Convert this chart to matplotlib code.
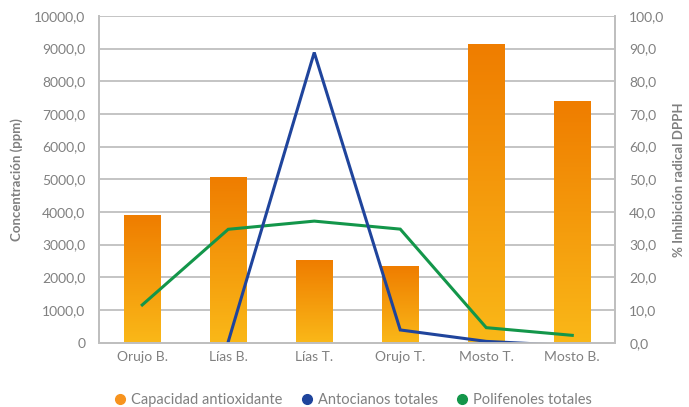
import numpy as np
import matplotlib.pyplot as plt
from matplotlib.lines import Line2D
from matplotlib.colors import LinearSegmentedColormap
from matplotlib.ticker import FuncFormatter

plt.rcParams['font.family'] = ['Lato', 'DejaVu Sans']

categorias = ["Orujo B.", "Lías B.", "Lías T.", "Orujo T.", "Mosto T.", "Mosto B."]
capacidad = [3910, 5070, 2530, 2355, 9135, 7400]
antocianos = [np.nan, 30, 8880, 390, 40, -90]
polifenoles = [1155, 3470, 3720, 3475, 460, 225]

gris = "#808080"
naranja_top = "#EF7D00"
naranja_base = "#FAB818"
azul = "#1F449C"
verde = "#13964A"

fig = plt.figure(figsize=(6.89, 4.07), dpi=100)
ax = fig.add_axes([0.144, 0.158, 0.749, 0.803])
ax2 = ax.twinx()

x = np.arange(len(categorias))
barras = ax.bar(x, capacidad, width=0.43, color="none", edgecolor="none", zorder=2)

# degradado vertical dentro de cada barra
cmap = LinearSegmentedColormap.from_list("naranja", [naranja_base, naranja_top])
grad = np.linspace(0, 1, 256).reshape(-1, 1)
for b in barras:
    x0, y0 = b.get_x(), b.get_y()
    w, h = b.get_width(), b.get_height()
    img = ax.imshow(grad, cmap=cmap, origin="lower", aspect="auto",
                    extent=[x0, x0 + w, y0, y0 + h], zorder=2)
    img.set_clip_path(b)

ax.plot(x, polifenoles, color=verde, lw=2.2, zorder=3, solid_joinstyle="miter")
ax.plot(x, antocianos, color=azul, lw=2.2, zorder=4, solid_joinstyle="miter")

ax.set_xlim(-0.5, len(categorias) - 0.5)
ax.set_ylim(0, 10000)
ax2.set_ylim(0, 100)
ax.set_yticks(np.arange(0, 10001, 1000))
ax2.set_yticks(np.arange(0, 101, 10))
ax.yaxis.set_major_formatter(FuncFormatter(lambda v, p: "0" if v == 0 else f"{v:.1f}".replace(".", ",")))
ax2.yaxis.set_major_formatter(FuncFormatter(lambda v, p: f"{v:.1f}".replace(".", ",")))

ax.set_xticks(x)
ax.set_xticklabels(categorias)
ax.grid(axis="y", color="#BFBFBF", lw=1.3, zorder=0)
ax.set_axisbelow(True)

for a in (ax, ax2):
    for s in a.spines.values():
        s.set_color("#BFBFBF")
        s.set_linewidth(1.3)
    a.spines["top"].set_visible(False)
    a.tick_params(length=0, colors=gris, labelsize=10)
ax.tick_params(axis="y", pad=10)
ax2.tick_params(axis="y", pad=10)
ax.tick_params(axis="x", pad=6)

ax.set_ylabel("Concentración (ppm)", color=gris, fontsize=9.5, fontweight="bold", labelpad=8)
ax2.set_ylabel("% Inhibición radical DPPH", color=gris, fontsize=9.5, fontweight="bold", labelpad=6)

handles = [Line2D([], [], ls="none", marker="o", ms=7, color=c)
           for c in ("#F7931E", azul, verde)]
fig.legend(handles, ["Capacidad antioxidante", "Antocianos totales", "Polifenoles totales"],
           loc="center", bbox_to_anchor=(0.513, 0.018), ncol=3, frameon=False,
           fontsize=10.5, labelcolor=gris, handlelength=0.7, handletextpad=0.4,
           columnspacing=1.3)

fig.savefig("out.png", dpi=100)
